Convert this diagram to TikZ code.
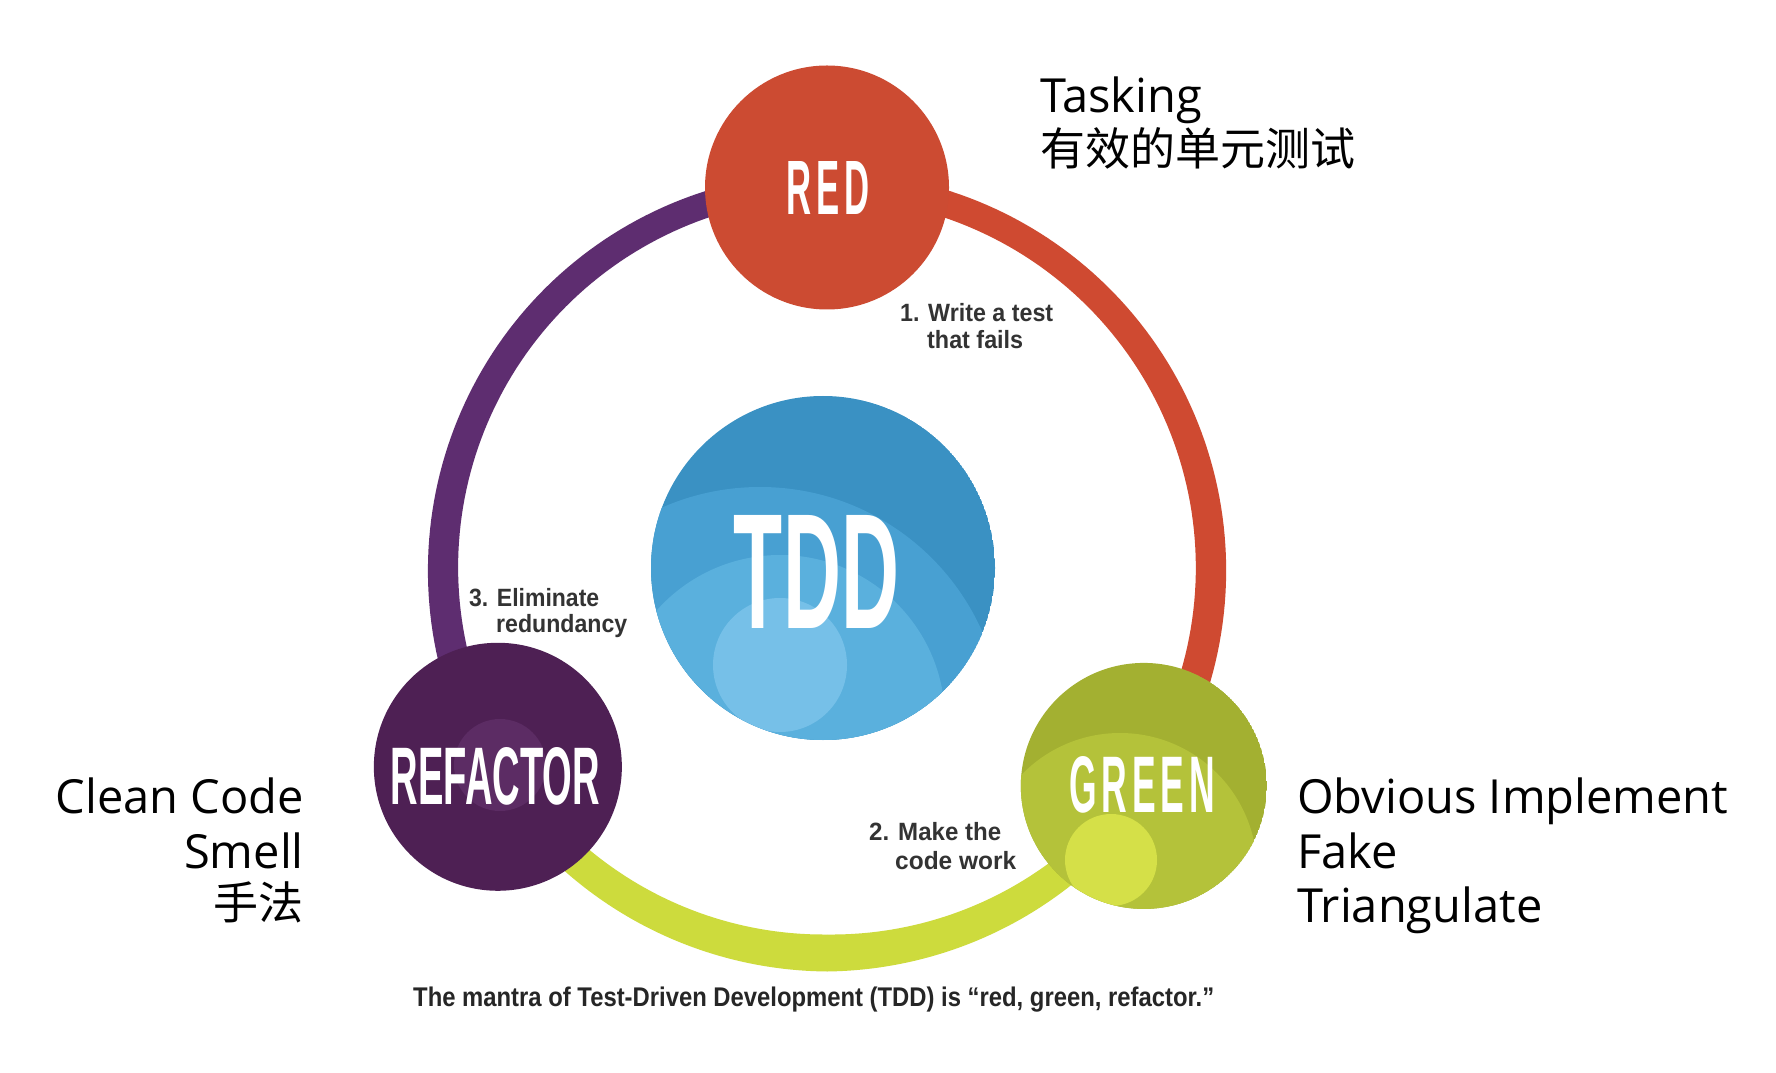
\documentclass[tikz,border=0pt]{standalone}
\usepackage{graphicx}
\usepackage{fontspec}
\usetikzlibrary{calc}
\newfontfamily\labelfont{Open Sans}
\newfontfamily\cjkfont{Noto Sans CJK SC}
\newfontfamily\headfont{Liberation Sans}

% width-fitted text: keep natural height
\newcommand\fitw[2]{\resizebox{#1}{\height}{#2}}
% condensed capitals of given width and cap height
\newcommand\caps[3]{\resizebox{#1}{#2}{\headfont\bfseries #3}}
\newcommand\spacedcaps[3]{\resizebox{#1}{#2}{\headfont\bfseries\addfontfeature{LetterSpace=14}#3}}

% ring geometry
\def\rx{827}
\def\ry{569}
\def\rr{384}
% tapered ring segment: colour, start angle, end angle, start width, end width
\newcommand\taperarc[5]{%
  \fill[#1] plot[domain=#2:#3, samples=90]
      ({\rx+(\rr+0.5*(#4+(#5-#4)*(\x-(#2))/((#3)-(#2))))*cos(\x)},
       {1072-\ry+(\rr+0.5*(#4+(#5-#4)*(\x-(#2))/((#3)-(#2))))*sin(\x)})
    -- plot[domain=#3:#2, samples=90]
      ({\rx+(\rr-0.5*(#4+(#5-#4)*(\x-(#2))/((#3)-(#2))))*cos(\x)},
       {1072-\ry+(\rr-0.5*(#4+(#5-#4)*(\x-(#2))/((#3)-(#2))))*sin(\x)})
    -- cycle;}

\definecolor{redc}{RGB}{204,75,50}
\definecolor{redarc}{RGB}{207,74,49}
\definecolor{purc}{RGB}{78,32,84}
\definecolor{purin}{RGB}{92,44,100}
\definecolor{purarc}{RGB}{94,45,112}
\definecolor{grnc}{RGB}{163,176,49}
\definecolor{grnmid}{RGB}{180,194,58}
\definecolor{grnin}{RGB}{213,224,72}
\definecolor{yelarc}{RGB}{205,219,61}
\definecolor{blue1}{RGB}{58,145,195}
\definecolor{blue2}{RGB}{72,160,210}
\definecolor{blue3}{RGB}{90,176,221}
\definecolor{blue4}{RGB}{118,192,232}
\definecolor{steptext}{RGB}{51,51,51}

\tikzset{
  bigtext/.style={inner sep=0pt, font=\labelfont\fontsize{47}{54}\selectfont},
  cjktext/.style={inner sep=0pt, font=\cjkfont\fontsize{45}{54}\selectfont},
  steptxt/.style={inner sep=0pt, anchor=base west, text=steptext,
    font=\headfont\bfseries\fontsize{25}{27}\selectfont},
  captxt/.style={inner sep=0pt, text=white},
}

\begin{document}
\begin{tikzpicture}[x=1pt,y=1pt]
\useasboundingbox[fill=white] (0,0) rectangle (1776,1072);

% cycle ring
\coordinate (ring) at (\rx,1072-\ry);
\coordinate (redpos) at (827,884.5);
\coordinate (greenpos) at ($(ring)+(-34.4:\rr)$);
\coordinate (refpos) at ($(ring)+(211:\rr)$);
\taperarc{redarc}{90}{-34.4}{26}{32}
\taperarc{purarc}{90}{211}{25}{32}
\taperarc{yelarc}{211}{270}{30}{37}
\taperarc{yelarc}{270}{325.6}{37}{28}

% RED
\fill[redc] (redpos) circle[radius=122];
\node[captxt] (red) at (828,883.5) {\spacedcaps{83pt}{53pt}{RED}};

% GREEN with inner shading
\begin{scope}
  \clip (greenpos) circle[radius=123];
  \fill[grnc] (greenpos) circle[radius=123];
  \fill[grnmid] (1120,202) circle[radius=137];
  \fill[grnin] (1111,212) circle[radius=46];
\end{scope}
\node[captxt] (green) at (1142,287) {\spacedcaps{146pt}{56pt}{GREEN}};

% REFACTOR
\fill[purc] (refpos) circle[radius=124];
\fill[purin] (500,307) circle[radius=46];
\node[captxt] (refactor) at (495.5,295.5) {\caps{209pt}{57pt}{REFACTOR}};

% TDD centre
\begin{scope}
  \clip (823,504) circle[radius=172];
  \fill[blue1] (823,504) circle[radius=172];
  \fill[blue2] (760,342) circle[radius=243];
  \fill[blue3] (780,352) circle[radius=165];
  \fill[blue4] (780,407) circle[radius=67];
\end{scope}
\node[captxt] (tdd) at (816.5,500) {\caps{165pt}{113pt}{TDD}};

% step captions
\node[steptxt] (s1a) at (900,750) {\fitw{153pt}{1. Write a test}};
\node[steptxt] (s1b) at (927,723) {\fitw{96pt}{that fails}};
\node[steptxt] (s2a) at (869,232) {\fitw{132pt}{2. Make the}};
\node[steptxt] (s2b) at (895,203) {\fitw{121pt}{code work}};
\node[steptxt] (s3a) at (469,466) {\fitw{130pt}{3. Eliminate}};
\node[steptxt] (s3b) at (496,440) {\fitw{131pt}{redundancy}};

% bottom line
\node[inner sep=0pt, anchor=base west, text=black!85,
  font=\headfont\bfseries\fontsize{27}{30}\selectfont] (mantra) at (413,66)
  {\fitw{801pt}{The mantra of Test-Driven Development (TDD) is “red, green, refactor.”}};

% practice notes
\node[bigtext, anchor=base west] (tasking) at (1040,959) {Tasking};
\node[cjktext, anchor=base west] (unit) at (1040,906) {有效的单元测试};

\node[bigtext, anchor=base east] (clean) at (304,259) {Clean Code};
\node[bigtext, anchor=base east] (smell) at (304,204) {Smell};
\node[cjktext, anchor=base east] (shoufa) at (304,153) {手法};

\node[bigtext, anchor=base west] (obvious) at (1297,259) {Obvious Implement};
\node[bigtext, anchor=base west] (fake) at (1297,204) {Fake};
\node[bigtext, anchor=base west] (tri) at (1297,150) {Triangulate};
\end{tikzpicture}
\end{document}
